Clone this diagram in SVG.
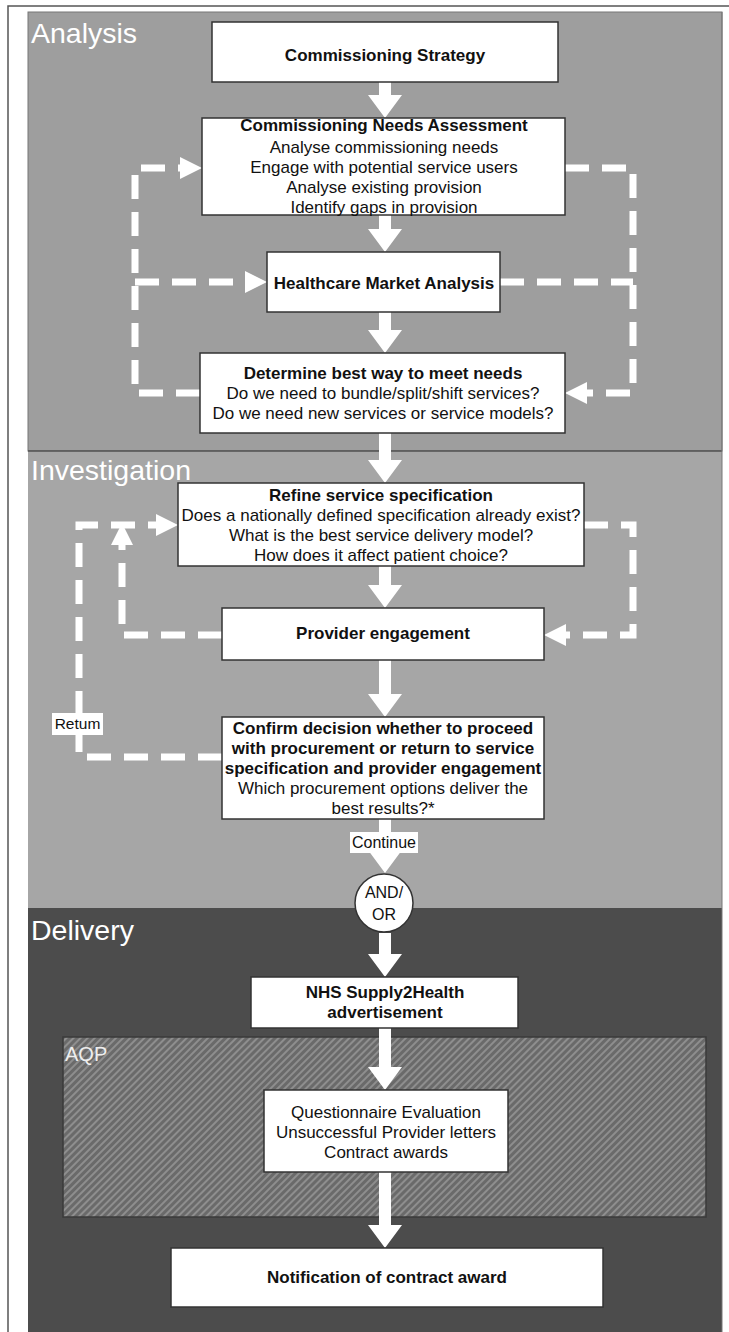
<svg xmlns="http://www.w3.org/2000/svg" width="729" height="1332" viewBox="0 0 729 1332">
<style>
.box{fill:#fff;stroke:#333;stroke-width:1.5}
.t{font-family:"Liberation Sans",Arial,sans-serif;font-size:17px;fill:#111;text-anchor:middle}
.b{font-weight:bold}
.hdr{font-family:"Liberation Sans",Arial,sans-serif;font-size:28.5px;fill:#fff}
.arr{fill:#fff}
.dash{fill:none;stroke:#fff;stroke-width:7;stroke-dasharray:24 13}
.lbl{fill:#fff}
</style>
<defs>
<pattern id="hatch" width="5" height="5" patternUnits="userSpaceOnUse" patternTransform="rotate(45)">
<rect width="5" height="5" fill="#6a6a6a"/>
<rect width="2" height="5" fill="#8e8e8e"/>
</pattern>
</defs>
<rect x="0" y="0" width="729" height="1332" fill="#fff"/>
<path d="M8,1332 V6 H729" fill="none" stroke="#555" stroke-width="1.5"/>
<g id="sections">
<rect x="28" y="12" width="694" height="439" fill="#9e9e9e" stroke="#777" stroke-width="1"/>
<rect x="28" y="451" width="694" height="457" fill="#a6a6a6"/>
<line x1="28" y1="451" x2="722" y2="451" stroke="#505050" stroke-width="1.5"/>
<rect x="28" y="908" width="694" height="424" fill="#4c4c4c"/>
<line x1="722" y1="12" x2="722" y2="1332" stroke="#777" stroke-width="1"/>
<text class="hdr" x="31" y="43">Analysis</text>
<text class="hdr" x="31" y="480">Investigation</text>
<text class="hdr" x="31" y="940">Delivery</text>
</g>
<g id="aqp">
<rect x="63" y="1037" width="643" height="180" fill="url(#hatch)" stroke="#3a3a3a" stroke-width="1.5"/>
<text x="65" y="1061" style="font-family:'Liberation Sans',Arial,sans-serif;font-size:20px;fill:#eee">AQP</text>
</g>
<g id="connectors">
<path class="arr" d="M379,82 H391 V95 H402 L385,118 L368,95 H379 Z"/>
<path class="arr" d="M379,215 H391 V229 H402 L385,252 L368,229 H379 Z"/>
<path class="arr" d="M379,312 H391 V330 H402 L385,353 L368,330 H379 Z"/>
<path class="arr" d="M379,433 H391 V460 H402 L385,483 L368,460 H379 Z"/>
<path class="arr" d="M379,566 H391 V585 H402 L385,608 L368,585 H379 Z"/>
<path class="arr" d="M379,660 H391 V694 H402 L385,717 L368,694 H379 Z"/>
<path class="arr" d="M379,819 H391 V850 H402 L385,873 L368,850 H379 Z"/>
<path class="arr" d="M379,933 H391 V954 H402 L385,977 L368,954 H379 Z"/>
<path class="arr" d="M379,1028 H391 V1067 H402 L385,1090 L368,1067 H379 Z"/>
<path class="arr" d="M379,1172 H391 V1225 H402 L385,1248 L368,1225 H379 Z"/>
<path class="dash" d="M200,393 H135 V168 H180"/>
<path class="dash" d="M135,282 H245"/>
<path class="dash" d="M565,168 H633 V393 H587"/>
<path class="dash" d="M500,282 H633"/>
<path class="dash" d="M222,757 H79 V525 H156"/>
<path class="dash" d="M222,635 H122 V545"/>
<path class="dash" d="M584,525 H633 V635 H566"/>
<polygon class="arr" points="180,157 202,168 180,179"/>
<polygon class="arr" points="245,271 267,282 245,293"/>
<polygon class="arr" points="587,382 565,393 587,404"/>
<polygon class="arr" points="156,514 178,525 156,536"/>
<polygon class="arr" points="111,545 122,523 133,545"/>
<polygon class="arr" points="566,624 544,635 566,646"/>
<g id="label-return">
<rect class="lbl" x="52" y="713" width="51" height="22"/>
<text class="t" x="77.5" y="729" style="font-size:15.5px">Retum</text>
</g>
<g id="label-continue">
<rect class="lbl" x="350" y="832" width="68" height="21"/>
<text class="t" x="384" y="848" style="font-size:16px">Continue</text>
</g>
</g>
<g id="n-strategy">
<rect class="box" x="212" y="22" width="346" height="60"/>
<text class="t b" x="385" y="61">Commissioning Strategy</text>
</g>
<g id="n-needs">
<rect class="box" x="202" y="118" width="363" height="97"/>
<text class="t" x="384" y="131"><tspan class="b">Commissioning Needs Assessment</tspan><tspan x="384" dy="22">Analyse commissioning needs</tspan><tspan x="384" dy="20">Engage with potential service users</tspan><tspan x="384" dy="20">Analyse existing provision</tspan><tspan x="384" dy="20">Identify gaps in provision</tspan></text>
</g>
<g id="n-market">
<rect class="box" x="267" y="252" width="233" height="60"/>
<text class="t b" x="384" y="289">Healthcare Market Analysis</text>
</g>
<g id="n-determine">
<rect class="box" x="200" y="353" width="365" height="80"/>
<text class="t" x="383" y="379"><tspan class="b">Determine best way to meet needs</tspan><tspan x="383" dy="20">Do we need to bundle/split/shift services?</tspan><tspan x="383" dy="20">Do we need new services or service models?</tspan></text>
</g>
<g id="n-refine">
<rect class="box" x="178" y="483" width="406" height="83"/>
<text class="t" x="381" y="501"><tspan class="b">Refine service specification</tspan><tspan x="381" dy="20">Does a nationally defined specification already exist?</tspan><tspan x="381" dy="20">What is the best service delivery model?</tspan><tspan x="381" dy="20">How does it affect patient choice?</tspan></text>
</g>
<g id="n-provider">
<rect class="box" x="222" y="608" width="322" height="52"/>
<text class="t b" x="383" y="639">Provider engagement</text>
</g>
<g id="n-confirm">
<rect class="box" x="222" y="717" width="322" height="102"/>
<text class="t" x="383" y="734"><tspan class="b">Confirm decision whether to proceed</tspan><tspan class="b" x="383" dy="20">with procurement or return to service</tspan><tspan class="b" x="383" dy="20">specification and provider engagement</tspan><tspan x="383" dy="20">Which procurement options deliver the</tspan><tspan x="383" dy="20">best results?*</tspan></text>
</g>
<g id="n-andor">
<circle cx="384" cy="903" r="29" fill="#fff" stroke="#333" stroke-width="1.5"/>
<text class="t" x="384" y="898" style="font-size:16px">AND/</text>
<text class="t" x="384" y="920" style="font-size:16px">OR</text>
</g>
<g id="n-nhs">
<rect class="box" x="251" y="977" width="267" height="51"/>
<text class="t b" x="385" y="998"><tspan>NHS Supply2Health</tspan><tspan x="385" dy="20">advertisement</tspan></text>
</g>
<g id="n-questionnaire">
<rect class="box" x="264" y="1090" width="244" height="82"/>
<text class="t" x="386" y="1118"><tspan>Questionnaire Evaluation</tspan><tspan x="386" dy="20">Unsuccessful Provider letters</tspan><tspan x="386" dy="20">Contract awards</tspan></text>
</g>
<g id="n-notification">
<rect class="box" x="171" y="1248" width="432" height="59"/>
<text class="t b" x="387" y="1283">Notification of contract award</text>
</g>
</svg>
